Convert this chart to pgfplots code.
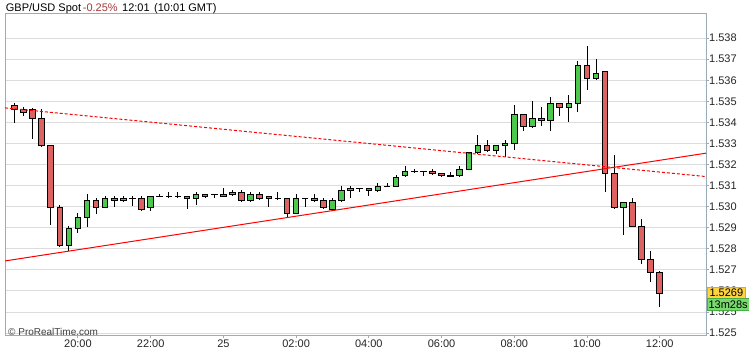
\documentclass[border=0pt]{standalone}
\usepackage{fontspec}
\setmainfont{Liberation Sans}
\usepackage{pgfplots}
\pgfplotsset{compat=1.18}
\usepackage{pgfplotstable}
\definecolor{candred}{HTML}{DD6363}
\definecolor{candgreen}{HTML}{4CC94C}
\definecolor{axisgray}{HTML}{9AABB9}
\definecolor{gridgray}{HTML}{DCDCDC}
\definecolor{pctred}{HTML}{A33A3A}
\definecolor{boxyellow}{HTML}{FFD23F}
\definecolor{boxorange}{HTML}{F0A800}
\definecolor{boxgreen}{HTML}{79D96E}
\definecolor{boxgreenline}{HTML}{44B044}

% i = 15-minute bar index (7 = 20:00, 23 = 00:00 on the 25th, 71 = 12:00)
\pgfplotstableread{
i O H L C
0 1.53482 1.53491 1.53399 1.53463
1 1.53463 1.53472 1.53428 1.53449
2 1.53463 1.53472 1.53321 1.53420
3 1.53420 1.53463 1.53283 1.53292
4 1.53292 1.53292 1.52915 1.52998
5 1.52998 1.53007 1.52808 1.52817
6 1.52817 1.52907 1.52792 1.52898
7 1.52898 1.52969 1.52877 1.52950
8 1.52950 1.53061 1.52907 1.53032
9 1.53032 1.53042 1.52969 1.52998
10 1.52998 1.53050 1.52998 1.53041
11 1.53041 1.53050 1.52998 1.53032
12 1.53032 1.53050 1.53022 1.53041
13 1.53041 1.53050 1.53007 1.53041
14 1.53041 1.53050 1.52979 1.52989
15 1.52998 1.53050 1.52979 1.53050
16 1.53050 1.53060 1.53050 1.53050
17 1.53050 1.53069 1.53041 1.53050
18 1.53050 1.53069 1.53041 1.53050
19 1.53050 1.53050 1.52988 1.53041
20 1.53041 1.53069 1.53007 1.53060
21 1.53060 1.53060 1.53041 1.53050
22 1.53060 1.53060 1.53041 1.53060
23 1.53060 1.53088 1.53050 1.53050
24 1.53060 1.53079 1.53050 1.53069
25 1.53069 1.53079 1.53022 1.53031
26 1.53031 1.53069 1.53022 1.53060
27 1.53060 1.53069 1.53031 1.53041
28 1.53050 1.53050 1.52998 1.53041
29 1.53041 1.53069 1.53031 1.53041
30 1.53041 1.53041 1.52950 1.52969
31 1.52969 1.53060 1.52969 1.53041
32 1.53041 1.53041 1.52998 1.53041
33 1.53041 1.53060 1.53022 1.53031
34 1.53031 1.53041 1.52988 1.52998
35 1.52988 1.53041 1.52988 1.53031
36 1.53031 1.53098 1.53022 1.53079
37 1.53079 1.53098 1.53041 1.53088
38 1.53088 1.53088 1.53069 1.53088
39 1.53088 1.53088 1.53050 1.53079
40 1.53079 1.53112 1.53069 1.53098
41 1.53098 1.53112 1.53098 1.53098
42 1.53098 1.53149 1.53098 1.53140
43 1.53149 1.53193 1.53140 1.53168
44 1.53168 1.53178 1.53159 1.53168
45 1.53168 1.53168 1.53149 1.53168
46 1.53168 1.53178 1.53149 1.53159
47 1.53159 1.53159 1.53140 1.53149
48 1.53149 1.53168 1.53149 1.53149
49 1.53149 1.53193 1.53140 1.53178
50 1.53178 1.53259 1.53178 1.53259
51 1.53259 1.53339 1.53250 1.53292
52 1.53292 1.53320 1.53259 1.53268
53 1.53268 1.53292 1.53249 1.53292
54 1.53292 1.53320 1.53235 1.53301
55 1.53301 1.53483 1.53268 1.53439
56 1.53439 1.53439 1.53358 1.53382
57 1.53382 1.53502 1.53373 1.53420
58 1.53420 1.53474 1.53382 1.53411
59 1.53411 1.53519 1.53358 1.53491
60 1.53491 1.53491 1.53429 1.53472
61 1.53472 1.53529 1.53401 1.53491
62 1.53491 1.53691 1.53449 1.53672
63 1.53672 1.53763 1.53553 1.53610
64 1.53610 1.53700 1.53601 1.53634
65 1.53643 1.53643 1.53069 1.53159
66 1.53159 1.53245 1.52988 1.52998
67 1.52998 1.53022 1.52867 1.53022
68 1.53022 1.53041 1.52907 1.52907
69 1.52907 1.52941 1.52727 1.52751
70 1.52751 1.52789 1.52646 1.52689
71 1.52689 1.52698 1.52526 1.52589
}\candles

\begin{document}
\begin{tikzpicture}[font=\fontsize{11bp}{13bp}\selectfont]
\fill[white] (-5bp,-13.5bp) rectangle (744bp,335.5bp);
\useasboundingbox (-5bp,-13.5bp) rectangle (744bp,335.5bp);
\begin{axis}[
  at={(0,0)}, anchor=south west,
  scale only axis, width=701bp, height=321.5bp,
  xmin=-1.023, xmax=76.09, ymin=1.523888, ymax=1.539144,
  axis line style={axisgray, line width=1bp},
  ymajorgrids, grid style={gridgray, line width=1bp},
  ytick={1.524,1.525,1.526,1.527,1.528,1.529,1.530,1.531,1.532,1.533,1.534,1.535,1.536,1.537,1.538},
  yticklabels={1.525,1.525,1.526,1.527,1.528,1.529,1.530,1.531,1.532,1.533,1.534,1.535,1.536,1.537,1.538},
  xtick={7,15,23,31,39,47,55,63,71},
  xticklabels={20:00,22:00,25,02:00,04:00,06:00,08:00,10:00,12:00},
  tick align=outside, major tick length=3bp,
  tick style={axisgray, line width=1bp},
  xtick pos=left, ytick pos=right, yticklabel pos=right,
  yticklabel style={anchor=west, inner sep=0pt, xshift=0bp},
  xticklabel style={anchor=north, inner sep=0pt, yshift=-1.5bp},
  ticklabel style={text=black!85},
]
% wicks
\addplot[draw=none, mark=none, forget plot,
  error bars/.cd, y dir=both, y explicit, error mark=none,
  error bar style={line width=1bp, draw=black}]
  table[x=i, y expr={(\thisrow{H}+\thisrow{L})/2}, y error expr={(\thisrow{H}-\thisrow{L})/2}] {\candles};
% body outlines
\addplot[draw=none, mark=none, forget plot,
  error bars/.cd, y dir=both, y explicit, error mark=none,
  error bar style={line width=6.5bp, draw=black}]
  table[x=i, y expr={(\thisrow{O}+\thisrow{C})/2}, y error expr={abs(\thisrow{C}-\thisrow{O})/2+0.0000237}] {\candles};
% green bodies
\addplot[draw=none, mark=none, forget plot,
  error bars/.cd, y dir=both, y explicit, error mark=none,
  error bar style={line width=4.5bp, draw=candgreen}]
  table[x=i, y expr={(\thisrow{O}+\thisrow{C})/2}, y error expr={(\thisrow{C}>\thisrow{O})*max(abs(\thisrow{C}-\thisrow{O})/2-0.0000237,0)}] {\candles};
% red bodies
\addplot[draw=none, mark=none, forget plot,
  error bars/.cd, y dir=both, y explicit, error mark=none,
  error bar style={line width=4.5bp, draw=candred}]
  table[x=i, y expr={(\thisrow{O}+\thisrow{C})/2}, y error expr={(\thisrow{C}<\thisrow{O})*max(abs(\thisrow{C}-\thisrow{O})/2-0.0000237,0)}] {\candles};
% trend lines
\addplot[red, line width=1bp] coordinates {(-1.023,1.527426) (76.09,1.53254)};
\addplot[red, line width=1bp, dash pattern=on 3bp off 2bp] coordinates {(-1.023,1.53469) (76.09,1.53143)};
\end{axis}
\node[anchor=base west, inner sep=0pt] at (0.7bp,323.8bp) {GBP/USD Spot};
\node[anchor=base west, inner sep=0pt, text=pctred] at (77.7bp,323.8bp) {-0.25\%};
\node[anchor=base west, inner sep=0pt] at (117bp,323.8bp) {12:01};
\node[anchor=base west, inner sep=0pt] at (149bp,323.8bp) {(10:01 GMT)};
\node[anchor=base west, inner sep=0pt, font=\fontsize{10bp}{12bp}\selectfont, text=black!75] at (3bp,0.5bp) {\textcopyright\ ProRealTime.com};
\node[draw=boxorange, fill=boxyellow, line width=0.8bp, inner sep=0pt, minimum width=38.5bp, minimum height=11.5bp, anchor=west] at (701.7bp,42.75bp) {1.5269};
\node[draw=boxgreenline, fill=boxgreen, line width=0.8bp, inner sep=0pt, minimum width=42bp, minimum height=11.5bp, anchor=west] at (701.7bp,31.25bp) {13m28s};
\end{tikzpicture}
\end{document}
